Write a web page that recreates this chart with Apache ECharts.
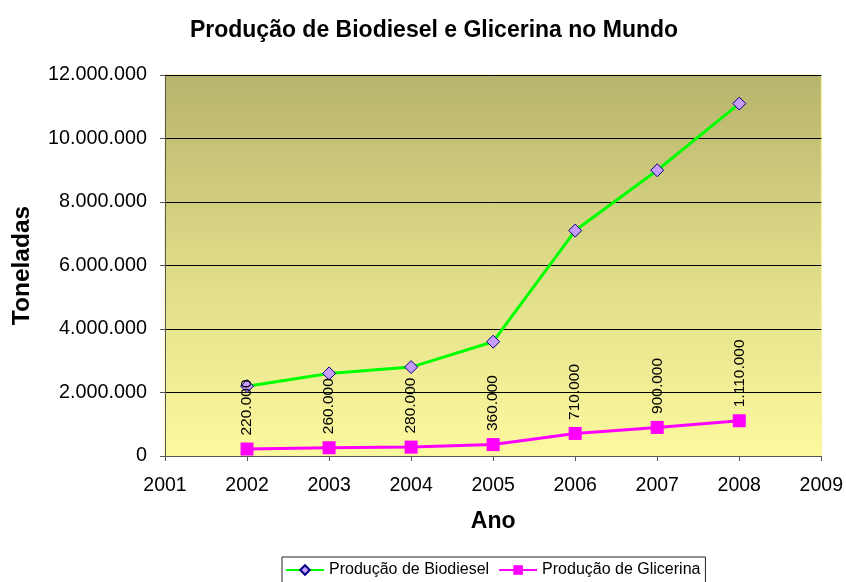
<!DOCTYPE html>
<html>
<head>
<meta charset="utf-8">
<script src="https://cdn.jsdelivr.net/npm/echarts@6/dist/echarts.min.js"></script>
<style>html,body{margin:0;padding:0;background:#fff;}#c{width:846px;height:582px;}</style>
</head>
<body>
<div id="c"></div>
<script>
const years = [2002, 2003, 2004, 2005, 2006, 2007, 2008];
const biodiesel = [2200000, 2600000, 2800000, 3600000, 7100000, 9000000, 11100000];
const glicerina = [220000, 260000, 280000, 360000, 710000, 900000, 1110000];
const seriesNames = ['Produção de Biodiesel', 'Produção de Glicerina'];

function fmt(v) {
  return String(Math.round(v)).replace(/\B(?=(\d{3})+(?!\d))/g, '.');
}

const chart = echarts.init(document.getElementById('c'));
const FONT = 'Liberation Sans, Arial, sans-serif';
chart.setOption({
  animation: false,
  textStyle: { fontFamily: FONT },
  title: {
    text: 'Produção de Biodiesel e Glicerina no Mundo',
    left: 429, top: 14, textAlign: 'center',
    textStyle: { fontSize: 23, fontWeight: 'bold', color: '#000', fontFamily: FONT }
  },
  grid: {
    left: 165, right: 23, top: 75, bottom: 126,
    show: true,
    borderColor: '#f4f09a', borderWidth: 1,
    backgroundColor: {
      type: 'linear', x: 0, y: 0, x2: 0, y2: 1,
      colorStops: [
        { offset: 0, color: '#b7b46c' },
        { offset: 0.5, color: '#dedb88' },
        { offset: 1, color: '#fcf99e' }
      ]
    }
  },
  legend: {
    left: 282, top: 557,
    padding: [5, 5, 8, 3],
    borderColor: '#222', borderWidth: 1, backgroundColor: '#fff',
    itemWidth: 38, itemHeight: 12, itemGap: 9,
    textStyle: { fontSize: 16, color: '#000', fontFamily: FONT },
    data: seriesNames
  },
  xAxis: {
    type: 'value', min: 2001, max: 2009, interval: 1,
    name: 'Ano', nameLocation: 'middle', nameGap: 54,
    nameTextStyle: { fontSize: 23, fontWeight: 'bold', color: '#000', fontFamily: FONT },
    axisLine: { show: true, lineStyle: { color: '#555', width: 1 } },
    axisTick: { show: true, length: 5, lineStyle: { color: '#555' } },
    axisLabel: { formatter: v => String(v), fontSize: 19.5, color: '#000', margin: 20, fontFamily: FONT },
    splitLine: { show: false }
  },
  yAxis: {
    type: 'value', min: 0, max: 12000000, interval: 2000000,
    name: 'Toneladas', nameLocation: 'middle', nameGap: 130,
    nameTextStyle: { fontSize: 24.5, fontWeight: 'bold', color: '#000', fontFamily: FONT },
    axisLine: { show: true, lineStyle: { color: '#555', width: 1 } },
    axisTick: { show: true, length: 5, lineStyle: { color: '#555' } },
    axisLabel: { formatter: v => fmt(v), fontSize: 19.8, color: '#000', margin: 18, fontFamily: FONT },
    splitLine: { show: true, lineStyle: { color: '#000', width: 1 } }
  },
  series: [
    {
      name: seriesNames[0], type: 'line',
      data: years.map((y, i) => [y, biodiesel[i]]),
      symbol: 'diamond', symbolSize: 13,
      lineStyle: { color: '#00ff00', width: 3 },
      itemStyle: { color: '#c89cff', borderColor: '#000080', borderWidth: 1 },
      z: 2
    },
    {
      name: seriesNames[1], type: 'line',
      data: years.map((y, i) => [y, glicerina[i]]),
      symbol: 'rect', symbolSize: 13,
      lineStyle: { color: '#ff00ff', width: 3 },
      itemStyle: { color: '#ff00ff', borderColor: '#ff00ff', borderWidth: 0 },
      label: {
        show: true, position: 'top', rotate: 90, align: 'left', verticalAlign: 'middle',
        distance: 7, fontSize: 15.5, color: '#000', fontFamily: FONT,
        formatter: p => fmt(p.value[1])
      },
      z: 3
    }
  ]
});
</script>
</body>
</html>
